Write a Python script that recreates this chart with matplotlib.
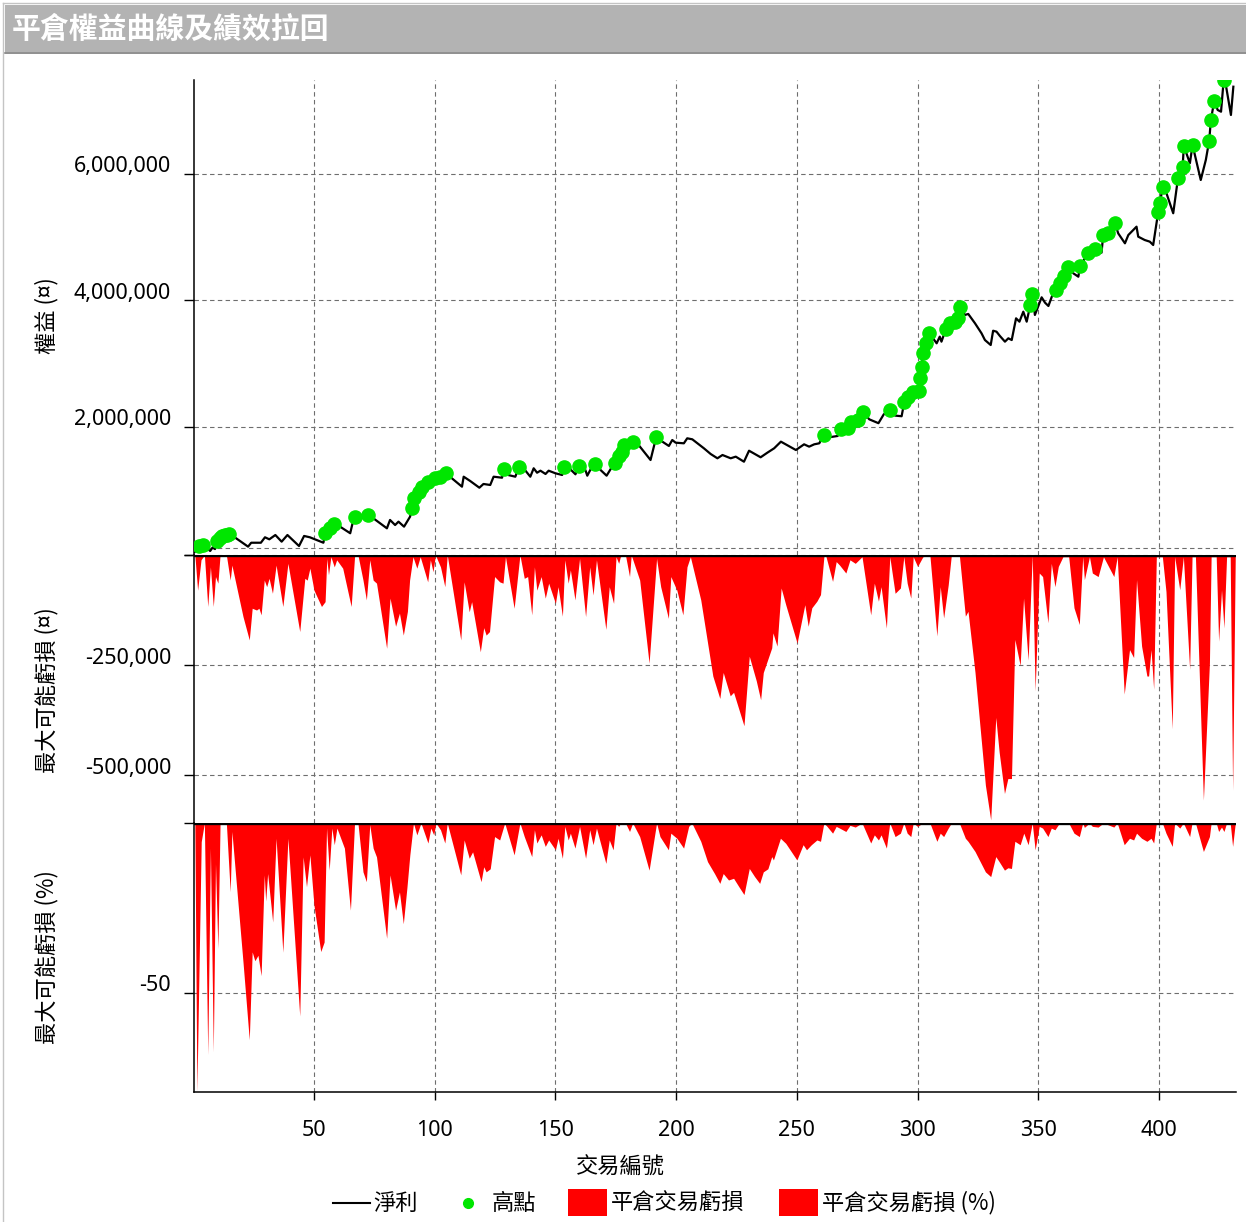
import matplotlib
matplotlib.use('Agg')
import matplotlib.pyplot as plt
from matplotlib.patches import Rectangle
from matplotlib.lines import Line2D

W, H = 1246, 1222
CJK = ['Noto Sans CJK TC', 'DejaVu Sans']
NUM = ['Noto Sans', 'DejaVu Sans']

# ---------------- data ----------------
title = '平倉權益曲線及績效拉回'
x_label = '交易編號'
y1_label = '權益 (¤)'
y2_label = '最大可能虧損 (¤)'
y3_label = '最大可能虧損 (%)'
legend_labels = ['淨利', '高點', '平倉交易虧損', '平倉交易虧損 (%)']
x_ticks = [50, 100, 150, 200, 250, 300, 350, 400]
y1_ticks = [2000000, 4000000, 6000000]
y2_ticks = [-250000, -500000]
y3_ticks = [-50]

# equity curve: trade number, net profit (thousands)
eq_trade = [0.6, 2.5, 4, 5, 6, 7, 8, 9, 10, 11, 13, 15, 17, 20, 22.7, 24, 28, 29.7, 31.5, 34,
            36.6, 39, 43.8, 45.9, 48.3, 53.9, 54.6, 56.6, 58.3, 60.8, 65, 66.3, 67, 70, 72.5,
            74.6, 80.2, 81.5, 83.6, 85, 87.3, 89.8, 90.5, 91.6, 93.3, 94.7, 95.5, 97.4, 100.2,
            102.3, 104.8, 107.1, 111.3, 112, 114.7, 118.5, 120.2, 123, 124.4, 127.9, 128.5,
            130.5, 133.4, 134.8, 137.6, 139.6, 141, 142.4, 143.8, 145.9, 147.2, 150, 152.8,
            153.4, 156.2, 158.3, 159.7, 162.4, 163.2, 164.8, 166.6, 168.7, 171.2, 172.8, 174.5,
            176.3, 177.7, 178.6, 180, 182.1, 183.9, 189.4, 191.8, 194.3, 197, 198.4, 199.8,
            203.2, 204.6, 206.7, 211.5, 214.3, 217.1, 219.2, 222.6, 224.7, 228.1, 230.2, 235,
            237.8, 240.6, 243.4, 249.6, 253, 255.1, 257.2, 259.3, 261.1, 263.4, 266.9, 268.3,
            271, 272.4, 275.2, 277.3, 280, 283.8, 286, 288.6, 290.7, 293.4, 294.5, 296, 297.2,
            298.2, 300, 300.5, 301, 301.7, 302.3, 303.7, 304.7, 307.9, 309.2, 309.9, 311.7,
            313.4, 315.4, 316.8, 317.5, 319.6, 321, 323.8, 326.5, 327.9, 330.3, 331.3, 332.7,
            334.1, 336.2, 337.6, 339, 340.8, 342.2, 343.8, 345.2, 346.7, 347.6, 348.6, 351.4,
            352.8, 354.2, 355.6, 357.3, 359, 360.6, 362.4, 364.5, 366.6, 367.3, 370.7, 373.5,
            376.2, 376.9, 379, 381.8, 383.1, 385.9, 387.3, 390.7, 391.4, 394.1, 396.2, 397.6,
            399.7, 400.4, 401.5, 403.1, 405.9, 407.9, 409.8, 410.3, 412.8, 413.9, 417.3, 419.4,
            420.8, 421.5, 422.9, 424.3, 425.7, 426.8, 427.7, 429.8, 430.8]
eq_k = [25, 120, 134, 60, 70, 40, 95, 70, 200, 245, 292, 308, 260, 180, 108, 170, 170, 256, 224, 292,
        187, 292, 118, 277, 256, 170, 320, 398, 466, 424, 320, 530, 582, 560, 609,
        556, 398, 530, 450, 503, 424, 582, 714, 872, 977, 1056, 1000, 1135, 1189,
        1205, 1268, 1189, 1056, 1214, 1146, 1040, 1099, 1083, 1214, 1198, 1331,
        1240, 1214, 1363, 1309, 1214, 1347, 1277, 1309, 1257, 1309, 1268, 1241,
        1372, 1331, 1252, 1388, 1320, 1230, 1347, 1415, 1320, 1230, 1331, 1436,
        1541, 1609, 1715, 1700, 1768, 1742, 1478, 1847, 1768, 1700, 1794, 1752,
        1742, 1821, 1805, 1663, 1573, 1505, 1557, 1505, 1531, 1451, 1625, 1521,
        1594, 1663, 1768, 1636, 1726, 1689, 1726, 1742, 1873, 1837, 1858, 1963,
        1979, 2084, 2111, 2242, 2121, 2060, 2200, 2268, 2180, 2170, 2396, 2474, 2380,
        2553, 2530, 2569, 2775, 2949, 3165, 3323, 3491, 3323, 3428, 3349, 3545,
        3639, 3665, 3718, 3902, 3771, 3787, 3639, 3481, 3375, 3296, 3522, 3507,
        3439, 3349, 3402, 3375, 3718, 3665, 3823, 3665, 3929, 4103, 3771, 4050,
        3965, 3913, 4060, 4166, 4272, 4387, 4534, 4430, 4376, 4545, 4746, 4809,
        4756, 5035, 5062, 5220, 5062, 4904, 5035, 5167, 5009, 4956, 4930, 4877,
        5404, 5537, 5790, 5695, 5379, 5942, 6116, 6443, 6170, 6459, 5905, 6222,
        6527, 6854, 7159, 7012, 6985, 7486, 7407, 6933, 7380]

# new equity highs (trade number, thousands)
hi_trade = [2.5, 4, 10, 11, 12, 13, 14, 15, 54.6, 56.6, 58.3, 67, 72.5, 90.5, 91.6, 93.3, 94.7,
            97.4, 100.2, 102.3, 104.8, 128.5, 134.8, 153.4, 159.7, 166.6, 174.5, 176.3, 177.7,
            178.6, 182.1, 191.8, 261.1, 268.3, 271, 272.4, 275.2, 277.3, 288.6, 294.5, 296,
            298.2, 300.5, 301, 301.7, 302.3, 303.7, 304.7, 311.7, 313.4, 315.4, 316.8, 317.5,
            346.7, 347.6, 357.3, 359, 360.6, 362.4, 367.3, 370.7, 373.5, 376.9, 379, 381.8,
            399.7, 400.4, 401.5, 407.9, 409.8, 410.3, 413.9, 420.8, 421.5, 422.9, 426.8]
hi_k = [120, 134, 200, 245, 270, 292, 300, 308, 320, 398, 466, 582, 609, 714, 872, 977, 1056,
        1135, 1189, 1205, 1268, 1331, 1363, 1372, 1388, 1415, 1436, 1541, 1609,
        1715, 1768, 1847, 1873, 1963, 1979, 2084, 2111, 2242, 2268, 2396, 2474,
        2553, 2569, 2775, 2949, 3165, 3323, 3491, 3545, 3639, 3665, 3718, 3902,
        3929, 4103, 4166, 4272, 4387, 4534, 4545, 4746, 4809, 5035, 5062, 5220,
        5404, 5537, 5790, 5942, 6116, 6443, 6459, 6527, 6854, 7159, 7486]

# closed trade drawdown (trade number, thousands)
dd_trade = [0.65, 1.8, 3.2, 4.6, 6.0, 7.1, 8.3, 9.2, 10.2, 11.1, 13.7, 15.3, 16.0, 20.6, 23.2, 24.4,
            26.2, 27.2, 28.1, 29.4, 30.4, 31.4, 32.8, 34.3, 37.1, 39.2, 44.1, 46.2, 47.2, 48.3,
            50, 53.1, 54.6, 55.3, 56.0, 57.0, 58.4, 59.4, 61.9, 65.4, 66.8, 68.2, 70.3, 71.7,
            73.1, 74.5, 75.9, 80.1, 81.5, 83.8, 85.4, 87.0, 88.7, 89.6, 91.0, 92.6, 94.0, 97.1,
            98.2, 99.3, 100.3, 102.4, 104.2, 105.2, 110.8, 112.2, 114.3, 115.3, 118.9, 120.3,
            121.3, 122.7, 124.8, 126.9, 128.3, 129.3, 132.9, 135.3, 137.1, 138.5, 140.2, 141.3,
            142.3, 144.1, 145.8, 147.2, 150.0, 151.1, 152.9, 153.9, 155.3, 156.2, 158.1, 160.0,
            162.5, 164.2, 165.6, 167.0, 170.9, 172.3, 174.1, 175.1, 176.2, 176.9, 179.0, 180.7,
            181.4, 184.9, 188.8, 191.9, 193.6, 196.8, 197.8, 200.3, 202.8, 204.5, 205.9,
            210.2, 215.2, 218.1, 219.5, 222.4, 223.8, 228.1, 230.3, 233.2, 235, 236.1, 239.6,
            240.1, 241.8, 243.5, 245.4, 250.1, 253.3, 254.7, 256.2, 258.3, 259.8, 261.2, 261.9,
            264.8, 266.3, 267.7, 270.3, 272, 274.2, 277, 280.6, 282.1, 283.8, 284.9, 287.1,
            288.5, 290.7, 292.9, 294.3, 295.7, 297.2, 298.2, 300, 302.2, 305.1, 308, 309.4,
            310.8, 312.7, 314, 317.3, 319.8, 320.9, 323.8, 328.1, 330.3, 332.4, 333.8, 336,
            337.4, 338.9, 340.3, 342.5, 343.9, 345.8, 347.5, 348.7, 350.4, 351.8, 354, 355.4,
            356.9, 358.3, 360.2, 362.6, 364.8, 367, 368.4, 369.1, 371.2, 372.4, 374.8, 377,
            381.3, 382.7, 385.6, 387.8, 389.5, 390.7, 392.8, 395, 395.7, 396.7, 397.8, 398.9,
            401.4, 402.9, 405.5, 406.5, 408.6, 410.1, 412.7, 413.7, 415.1, 418.4, 420.9, 421.6,
            423.7, 424.7, 425.9, 426.9, 428, 429.5, 430.5, 431.6]
dd_k = [0, -80, -11, 0, -117, -27, -117, -49, -64, 0, 0, -57, -23, -140, -193, -121,
        -125, -121, -136, -57, -72, -53, -87, -23, -117, -19, -174, -53, -57, -30,
        -80, -117, -106, -8, -45, -4, -27, -11, -30, -117, -4, 0, -57, -102,
        -11, -57, -64, -212, -98, -162, -132, -182, -128, -57, -4, -30, -4, -61,
        -11, -38, 0, -27, -72, 0, -193, -61, -129, -106, -220, -165,
        -182, -174, -49, -61, -64, -4, -121, 0, -53, -49, -136, -27,
        -80, -49, -98, -64, -110, -72, -139, -11, -64, -34, -102, -8,
        -140, -27, -91, -11, -169, -72, -110, -4, -19, -4, 0, -49,
        0, -57, -246, -8, -72, -144, -49, -80, -136, -27, -4,
        -102, -275, -326, -267, -320, -312, -388, -230, -286, -329, -267, -211,
        -177, -207, -75, -113, -200, -113, -162, -120, -105, -90, -4, 0,
        -60, -15, -23, -41, -11, -19, -4, -136, -64, -105, -72, -166,
        -4, -87, -75, -4, -64, -98, -4, -26, -4, 0, -184, -72,
        -143, -68, 0, 0, -139, -128, -267, -523, -602, -369, -448, -542,
        -508, -508, -192, -251, -98, -239, 0, -309, -41, -49, -154, -19,
        -72, -26, -4, -4, -120, -158, -4, -56, -4, -41, -49, -4,
        -49, -4, -316, -215, -233, -56, -207, -275, -275, -215, -305, -4,
        -4, -83, -395, -4, -79, -4, -260, -4, -4, -557, -245, -4,
        -4, -196, -79, -166, -4, -4, -535, 0]

# closed trade drawdown in percent (trade number, %)
pct_trade = [0.65, 1.5, 3.3, 4.6, 6.0, 7.1, 8.3, 9.2, 10.2, 11.1, 13.7, 15.3, 16.0, 20.6, 23.2,
             24.4, 25.5, 26.8, 28.1, 29.4, 30.0, 30.8, 32.9, 34.3, 37.1, 39.2, 44.1, 45.5, 46.9,
             48.3, 50, 52.8, 54.2, 55.2, 56.3, 57.4, 58.4, 59.5, 62.6, 65.1, 66.8, 68.2, 70.3,
             71.7, 73.1, 74.5, 75.9, 80.1, 81.5, 83.8, 85.4, 87.0, 88.5, 89.7, 91.2, 92.6, 94.3,
             97.2, 98.4, 99.6, 100.5, 102.4, 104.2, 105.2, 110.8, 112.2, 114.3, 115.7, 119.2,
             120.3, 121.3, 123, 124.8, 126.9, 129, 132.9, 135.3, 137.1, 140.2, 141.3, 142.3,
             144.1, 145.8, 147.2, 150, 151.1, 152.9, 153.9, 155.3, 156.2, 158.1, 160, 162.5,
             164.2, 165.6, 167, 170.9, 172.3, 173.9, 175.1, 176.2, 177, 179, 180.7, 182, 184.9,
             188.8, 191.9, 193.3, 196.8, 197.8, 200.3, 203.1, 205.2, 206.5, 210.2, 213, 215.9,
             218.1, 219.5, 221.7, 223.8, 226, 228.1, 230.3, 232.5, 234.6, 236.1, 238, 239.6,
             240.3, 243.2, 245.4, 250, 252.6, 254, 256, 258.3, 259.8, 261.2, 262.5, 264.8,
             266.3, 267.7, 270.3, 272, 274.2, 277, 280.6, 282.1, 283.8, 284.9, 287.1, 288.5,
             290.7, 292.9, 294.3, 295.7, 297.2, 298.2, 300, 302.2, 305.1, 308, 309.4, 310.8,
             312.7, 314, 317.3, 319.8, 320.9, 323.8, 328.1, 330.3, 332.4, 333.8, 336, 337.4,
             338.9, 340.3, 342.5, 344, 345.8, 347.5, 348.7, 350.4, 351.8, 354, 355.4, 356.9,
             358.3, 360.2, 362.6, 364.8, 367, 368.4, 369.1, 371.2, 372.4, 374.8, 377, 381.3,
             382.7, 385.6, 387.8, 389.5, 390.7, 392.8, 395, 396.7, 397.8, 398.9, 401.4, 402.9,
             405.5, 406.5, 408.6, 410.1, 412.7, 413.7, 415.1, 418.4, 420.9, 421.6, 423.7, 424.7,
             425.9, 426.9, 428, 429.5, 430.5, 431.6]
pct = [0, -79.3, -5.5, 0, -68.3, -7.4, -67.5, -12, -37, 0, 0, -20.3, -2.5, -41, -63.9,
       -38, -40.6, -39, -45, -15.3, -23, -14.9, -29.2, -4.5, -38.1, -4.5, -56.9, -10, -18.8,
       -9.4, -24.3, -37.9, -35.1, -1.5, -13.9, -1.5, -6.4, -1.5, -7.4, -25.7, 0, 0, -14.4,
       -17.3, -0.5, -7.4, -10, -34, -15.3, -25.7, -20.3, -29.7, -19, -9.4, 0, -3.5, 0,
       -5.9, -1.5, -3.5, 0, -2, -5.9, 0, -15.3, -5, -10.4, -8.5, -17.3,
       -12.9, -14.4, -13.5, -4, -5, 0, -9.4, 0, -4, -9.9, -2, -5.9,
       -3.5, -6.9, -5, -7.9, -4.5, -10.4, -1, -5, -3, -7.4, -1, -10.4,
       -2, -6.4, -1.5, -11.9, -5, -7.9, 0, -1, 0, 0, -2.5, 0, -4,
       -13.9, 0, -4, -7.9, -3, -4.5, -7.4, -1, 0, -5.4, -11.4, -14.9,
       -17.8, -14.9, -16.8, -16.3, -18.8, -21.1, -13.4, -15.8, -17.8, -14.4, -13.5, -9.9,
       -10.9, -4.5, -6, -10.9, -6.4, -7.9, -6.4, -5, -5.4, 0, -1, -3,
       -1, -1.5, -2.5, -0.7, -1.2, 0, -5.9, -3.5, -5, -3.5, -7.4, 0,
       -4, -3, 0, -3, -4, 0, -1, 0, 0, -5.4, -3, -4,
       -1.5, 0, 0, -4.5, -5.4, -8.4, -14.4, -15.8, -9.9, -11.4, -13.9, -13.2,
       -13.4, -5.4, -6.4, -3, -6.4, 0, -7.9, -1, -1.5, -4, -1.5, -2,
       -0.5, 0, 0, -3, -4, 0, -1.3, 0, -1, -1.2, 0, -1.2,
       0, -6.4, -4.5, -5, -3, -4.5, -5.4, -4.5, -5.9, 0, 0, -3,
       -6.9, 0, -1.5, 0, -4, 0, 0, -8.4, -4, 0, 0, -2.5,
       -1.2, -2.5, 0, 0, -6.9, 0]

# ---------------- figure ----------------
fig = plt.figure(figsize=(W / 100, H / 100), dpi=100)
fig.patch.set_facecolor('white')


def rect(l, t, r, b):
    return [l / W, 1 - b / H, (r - l) / W, (b - t) / H]


def fx(x):
    return x / W


def fy(y):
    return 1 - y / H


ax1 = fig.add_axes(rect(194, 80, 1236, 555))
ax2 = fig.add_axes(rect(194, 555, 1236, 823))
ax3 = fig.add_axes(rect(194, 823, 1236, 1092))

XMIN, XMAX = 0.3, 431.9
GRID = dict(color='#6e6e6e', lw=0.8, ls=(0, (4, 3)))

for ax in (ax1, ax2, ax3):
    ax.set_xlim(XMIN, XMAX)
    ax.set_facecolor('none')
    for s in ('top', 'right', 'bottom'):
        ax.spines[s].set_visible(False)
    ax.spines['left'].set_linewidth(1.1)
    ax.spines['left'].set_color('black')
    ax.set_xticks(x_ticks)
    ax.xaxis.grid(True, **GRID)
    ax.yaxis.grid(True, **GRID)
    ax.set_axisbelow(True)
    ax.tick_params(axis='y', direction='out', length=7.5, width=1.0, labelleft=False)
    ax.tick_params(axis='x', length=0, labelbottom=False)

ax3.spines['bottom'].set_visible(True)
ax3.spines['bottom'].set_linewidth(1.1)
ax3.tick_params(axis='x', direction='out', length=6, width=1.0, labelbottom=True, pad=14.5,
                labelsize=15.5)
ax3.set_xticklabels([str(t) for t in x_ticks], family=NUM)

# panel 1: equity
eq_x = eq_trade
eq_y = [v * 1000 for v in eq_k]
ax1.plot(eq_x, eq_y, color='black', lw=1.6, zorder=3)
ax1.plot(hi_trade, [v * 1000 for v in hi_k], 'o', color='#00e600', ms=9.5, mec='#00e600',
         zorder=4)
ax1.set_ylim(-24000, 7486000)
ax1.set_yticks([-24000] + y1_ticks)
ax1.axhline(87000, **GRID, zorder=1)

# panel 2: drawdown currency
ax2.fill_between(dd_trade, [v * 1000 for v in dd_k], 0, color='#ff0000', lw=0, zorder=2)
ax2.axhline(0, color='black', lw=2.4, zorder=5)
ax2.set_ylim(-609000, 0)
ax2.set_yticks([0] + y2_ticks)

# panel 3: drawdown percent
ax3.fill_between(pct_trade, pct, 0, color='#ff0000', lw=0, zorder=2)
ax3.axhline(0, color='black', lw=2.4, zorder=5)
ax3.set_ylim(-79.3, 0)
ax3.set_yticks([0] + y3_ticks)


def ylabels(ax, ticks, fmt):
    for t in ticks:
        ax.annotate(fmt(t), xy=(0, t), xycoords=ax.get_yaxis_transform(),
                    xytext=(-23 * 0.72, 7 * 0.72), textcoords='offset points',
                    ha='right', va='center', fontsize=15.5, family=NUM, annotation_clip=False)


ylabels(ax1, y1_ticks, lambda v: f'{v:,.0f}')
ylabels(ax2, y2_ticks, lambda v: f'{v:,.0f}')
ylabels(ax3, y3_ticks, lambda v: f'{v:.0f}')

# axis titles
fig.text(fx(47), fy(316), y1_label, rotation=90, ha='center', va='center', fontsize=16, family=CJK)
fig.text(fx(47), fy(690), y2_label, rotation=90, ha='center', va='center', fontsize=16, family=CJK)
fig.text(fx(47), fy(957), y3_label, rotation=90, ha='center', va='center', fontsize=16, family=CJK)
fig.text(fx(620), fy(1167), x_label, ha='center', va='center', fontsize=16, family=CJK)

# title bar
fig.add_artist(Rectangle((fx(5), fy(52)), (W - 5) / W, 47 / H, transform=fig.transFigure,
                         facecolor='#b3b3b3', edgecolor='none', zorder=0))
fig.add_artist(Line2D([fx(5), 1], [fy(52.5), fy(52.5)], transform=fig.transFigure,
                      color='#7c7c7c', lw=1.2))
fig.add_artist(Line2D([fx(3), fx(3)], [0, fy(3)], transform=fig.transFigure,
                      color='#c4c4c4', lw=1.0))
fig.add_artist(Line2D([fx(3), 1], [fy(3), fy(3)], transform=fig.transFigure,
                      color='#c4c4c4', lw=1.0))
fig.text(fx(12), fy(28.5), title, ha='left', va='center', fontsize=20.8, weight='bold',
         color='white', family=CJK)

# legend (manual)
ly = fy(1203)
fig.add_artist(Line2D([fx(333), fx(370)], [ly, ly], transform=fig.transFigure,
                      color='black', lw=1.5))
fig.text(fx(373), ly, legend_labels[0], ha='left', va='center', fontsize=16, family=CJK)
fig.add_artist(Line2D([fx(468)], [ly], transform=fig.transFigure, marker='o', ms=7,
                      color='#00e600', lw=0))
fig.text(fx(492), ly, legend_labels[1], ha='left', va='center', fontsize=16, family=CJK)
fig.add_artist(Rectangle((fx(568), fy(1216)), 39 / W, 27 / H, transform=fig.transFigure,
                         facecolor='#ff0000', edgecolor='none'))
fig.text(fx(611), ly, legend_labels[2], ha='left', va='center', fontsize=16, family=CJK)
fig.add_artist(Rectangle((fx(779), fy(1216)), 39 / W, 27 / H, transform=fig.transFigure,
                         facecolor='#ff0000', edgecolor='none'))
fig.text(fx(822), ly, legend_labels[3], ha='left', va='center', fontsize=16, family=CJK)

fig.savefig('out.png', dpi=100)
